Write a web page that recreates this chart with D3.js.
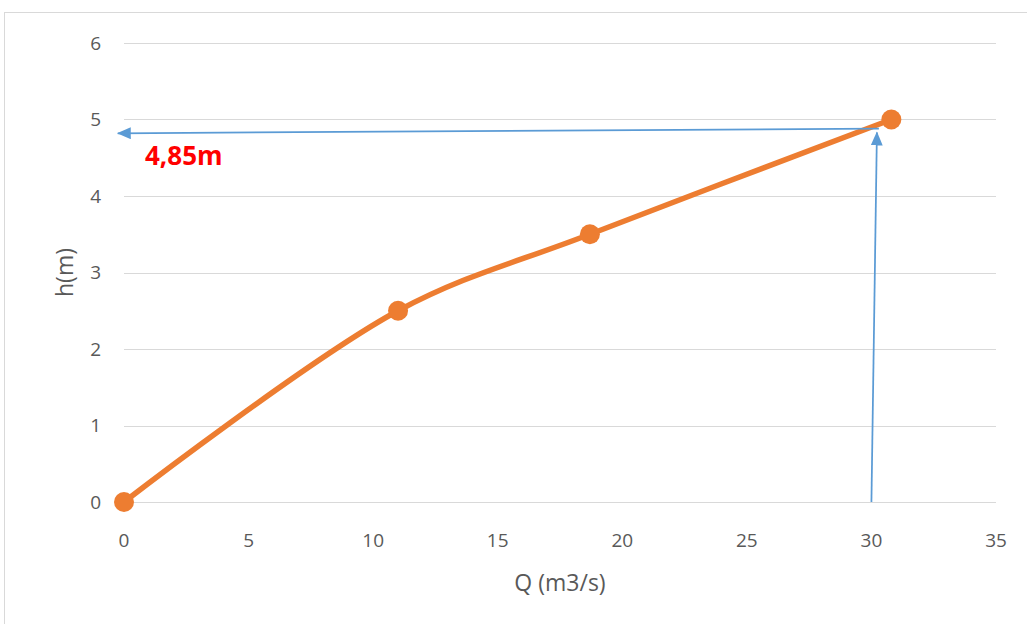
<!DOCTYPE html>
<html>
<head>
<meta charset="utf-8">
<script src="https://cdn.jsdelivr.net/npm/d3@7"></script>
<style>
  body { margin: 0; background: #fff; }
  text { font-family: "Open Sans", "Liberation Sans", sans-serif; }
</style>
</head>
<body>
<script>
// data
var qValues = [0, 11, 18.7, 30.8];
var hValues = [0, 2.5, 3.5, 5];
var xTicks = [0, 5, 10, 15, 20, 25, 30, 35];
var yTicks = [0, 1, 2, 3, 4, 5, 6];
// annotation arrows (data coords)
var vArrow = [[30.0, 0], [30.22, 4.83]];
var hArrow = [[30.3, 4.88], [-0.25, 4.82]];
var noteText = "4,85m";

var W = 1027, H = 624;
var margin = {left: 124, right: 31, top: 43, bottom: 122};

var svg = d3.select("body").append("svg")
    .attr("width", W).attr("height", H);

// chart frame
svg.append("rect")
    .attr("x", 4.5).attr("y", 12.5)
    .attr("width", W + 10).attr("height", H + 10)
    .attr("fill", "none").attr("stroke", "#d9d9d9");

var x = d3.scaleLinear().domain([0, 35]).range([margin.left, W - margin.right]);
var y = d3.scaleLinear().domain([0, 6]).range([H - margin.bottom, margin.top]);

// gridlines
svg.append("g").selectAll("line")
    .data(yTicks).enter().append("line")
    .attr("x1", x(0)).attr("x2", x(35))
    .attr("y1", function(d) { return Math.round(y(d)) + 0.5; })
    .attr("y2", function(d) { return Math.round(y(d)) + 0.5; })
    .attr("stroke", "#d9d9d9").attr("stroke-width", 1);

// tick labels
svg.append("g").selectAll("text")
    .data(yTicks).enter().append("text")
    .attr("x", 101).attr("y", function(d) { return y(d); })
    .attr("dy", "0.36em").attr("text-anchor", "end")
    .attr("font-size", "19px").attr("fill", "#595959")
    .text(function(d) { return d; });

svg.append("g").selectAll("text")
    .data(xTicks).enter().append("text")
    .attr("x", function(d) { return x(d); }).attr("y", y(0) + 45)
    .attr("text-anchor", "middle")
    .attr("font-size", "19px").attr("fill", "#595959")
    .text(function(d) { return d; });

// axis titles
svg.append("text")
    .attr("x", (x(0) + x(35)) / 2).attr("y", 591)
    .attr("text-anchor", "middle")
    .attr("font-size", "23px").attr("fill", "#595959")
    .text("Q (m3/s)");

svg.append("text")
    .attr("transform", "translate(73," + ((y(0) + y(6)) / 2) + ") rotate(-90)")
    .attr("text-anchor", "middle")
    .attr("font-size", "23px").attr("fill", "#595959")
    .text("h(m)");

// series
var pts = qValues.map(function(q, i) { return [q, hValues[i]]; });

var line = d3.line()
    .x(function(d) { return x(d[0]); })
    .y(function(d) { return y(d[1]); })
    .curve(d3.curveCatmullRom.alpha(0.5));

svg.append("path")
    .datum(pts)
    .attr("d", line)
    .attr("fill", "none")
    .attr("stroke", "#ED7D31")
    .attr("stroke-width", 5.5)
    .attr("stroke-linecap", "round");

svg.selectAll(".dot")
    .data(pts).enter().append("circle")
    .attr("class", "dot")
    .attr("cx", function(d) { return x(d[0]); })
    .attr("cy", function(d) { return y(d[1]); })
    .attr("r", 10)
    .attr("fill", "#ED7D31");

// arrows
svg.append("defs").append("marker")
    .attr("id", "head")
    .attr("viewBox", "0 0 14 12")
    .attr("preserveAspectRatio", "none")
    .attr("refX", 13).attr("refY", 6)
    .attr("markerWidth", 14).attr("markerHeight", 12)
    .attr("markerUnits", "userSpaceOnUse")
    .attr("orient", "auto")
    .append("path")
    .attr("d", "M0,0 L14,6 L0,12 Z")
    .attr("fill", "#5B9BD5");

[vArrow, hArrow].forEach(function(a) {
    svg.append("line")
        .attr("x1", x(a[0][0])).attr("y1", y(a[0][1]))
        .attr("x2", x(a[1][0])).attr("y2", y(a[1][1]))
        .attr("stroke", "#5B9BD5").attr("stroke-width", 1.75)
        .attr("marker-end", "url(#head)");
});

svg.append("text")
    .attr("x", 145).attr("y", 165)
    .attr("font-size", "26px").attr("font-weight", "bold")
    .attr("fill", "#FF0000")
    .text(noteText);
</script>
</body>
</html>
